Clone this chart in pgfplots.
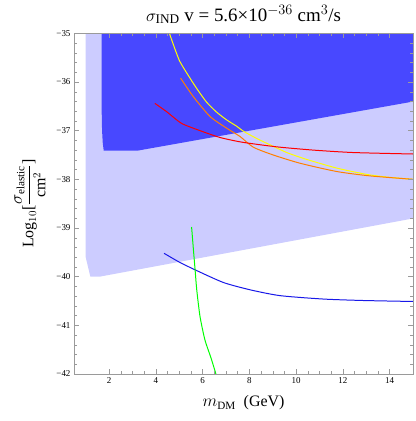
\documentclass[border=0pt]{standalone}
\usepackage{fontspec}
\setmainfont{Liberation Serif}
\usepackage{pgfplots}
\pgfplotsset{compat=1.18}
\definecolor{darkreg}{HTML}{4848FF}
\definecolor{lightreg}{HTML}{CCCCFF}
\definecolor{framegray}{HTML}{9A9A9A}
\definecolor{myorange}{HTML}{FF8000}
\definecolor{myyellow}{HTML}{FFFF00}
\definecolor{mygreen}{HTML}{00FF00}
\definecolor{myblue}{HTML}{1818E8}
\begin{document}
\begin{tikzpicture}
\begin{axis}[
  scale only axis, width=339bp, height=340.7bp,
  xmin=0.5, xmax=15, ymin=-42, ymax=-35,
  axis line style={framegray},
  tick style={framegray, thin},
  tick align=inside,
  major tick length=5bp, minor tick length=3bp,
  xtick={2,4,...,14}, minor x tick num=3,
  ytick={-42,-41,...,-35}, minor y tick num=4,
  yticklabels={−42,−41,−40,−39,−38,−37,−36,−35},
  /pgf/number format/assume math mode=true,
  tick label style={font=\fontsize{9}{10}\selectfont},
  title={$\sigma_{\mathrm{IND}}$ v = 5.6×10$^{-36}$ cm$^3$/s},
  title style={font=\fontsize{19}{21}\selectfont, at={(axis description cs:0.5,1)}, anchor=south, yshift=0bp},
  xlabel={$m_{\mathrm{DM}}$\ \ (GeV)},
  xlabel style={font=\fontsize{16}{18}\selectfont, at={(axis description cs:0.5,0)}, anchor=north, yshift=-18bp},
  ylabel={Log$_{10}$[$\displaystyle\frac{\sigma_{\mathrm{elastic}}}{\mathrm{cm}^2}$]},
  ylabel style={font=\fontsize{16}{18}\selectfont, at={(axis description cs:-0.13,0.5)}, anchor=center},
  axis on top,
  clip=true,
]
\addplot[draw=none, fill=lightreg] coordinates {
 (1.0,-34) (1.0,-39.6) (1.2,-40.0) (1.6,-40.0) (15.5,-38.76) (15.5,-34)} -- cycle;
\addplot[draw=none, fill=darkreg] coordinates {
 (1.68,-34) (1.68,-36.5) (1.70,-37.0) (1.73,-37.25) (1.77,-37.41) (3.23,-37.41) (15.5,-36.36) (15.5,-34)} -- cycle;
% yellow
\addplot[myyellow, line width=1pt, smooth, tension=0.4] coordinates {
 (4.58,-35.0) (5.0,-35.55) (5.46,-35.92) (5.8,-36.17) (6.18,-36.42) (6.6,-36.62) (7.03,-36.78) (7.46,-36.91) (7.74,-37.01) (8.31,-37.16) (8.88,-37.29) (9.6,-37.45) (10.31,-37.57) (11.0,-37.67) (11.74,-37.77) (12.5,-37.85) (13.16,-37.91) (14.0,-37.96) (15,-38.0)};
% orange
\addplot[myorange, line width=1pt, smooth, tension=0.4] coordinates {
 (5.06,-35.92) (5.6,-36.30) (6.32,-36.71) (7.03,-36.95) (7.6,-37.12) (8.17,-37.34) (9.02,-37.50) (10.17,-37.67) (11.74,-37.84) (13.16,-37.93) (15,-38.0)};
% red
\addplot[red, line width=1pt, smooth, tension=0.4] coordinates {
 (3.96,-36.44) (4.46,-36.61) (5.1,-36.85) (5.89,-37.0) (6.74,-37.14) (7.6,-37.23) (8.46,-37.29) (9.31,-37.34) (10.74,-37.40) (12.45,-37.45) (15,-37.48)};
% blue
\addplot[myblue, line width=1pt, smooth, tension=0.4] coordinates {
 (4.35,-39.52) (5.0,-39.7) (5.68,-39.86) (6.89,-40.12) (8.03,-40.27) (9.31,-40.39) (11.16,-40.46) (12.87,-40.49) (15,-40.51)};
% green
\addplot[mygreen, line width=1pt, smooth, tension=0.4] coordinates {
 (5.53,-38.98) (5.6,-39.4) (5.68,-39.86) (5.75,-40.27) (5.89,-40.82) (6.1,-41.30) (6.36,-41.67) (6.57,-42.0)};
\end{axis}
\pgfresetboundingbox
\path (current axis.south west) ++(-74bp,-47bp) coordinate (bl);
\path (current axis.north east) ++(2bp,33.3bp) coordinate (tr);
\path (bl) rectangle (tr);
\end{tikzpicture}
\end{document}
